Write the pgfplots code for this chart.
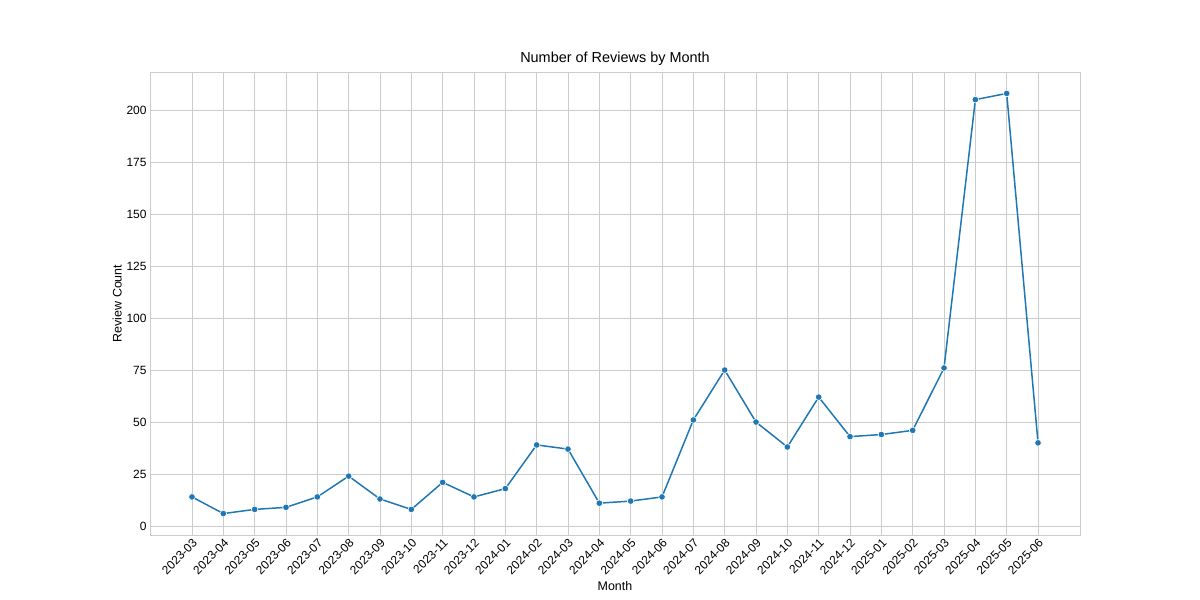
\documentclass[border=0pt]{standalone}
\usepackage{pgfplots}
\pgfplotsset{compat=1.18}
\usepackage{fontspec}
\setmainfont{Liberation Sans}
\definecolor{sb}{HTML}{1F77B4}
\definecolor{gr}{HTML}{CCCCCC}
\begin{document}
\begin{tikzpicture}[x=1bp,y=1bp]
\path[use as bounding box] (-150,-65) rectangle (1050,535);
\begin{axis}[
  scale only axis, width=930bp, height=463bp,
  xmin=-1.34, xmax=28.34, ymin=-4.3, ymax=218.3,
  xtick={0,...,27},
  xticklabels={2023-03,2023-04,2023-05,2023-06,2023-07,2023-08,2023-09,2023-10,2023-11,2023-12,2024-01,2024-02,2024-03,2024-04,2024-05,2024-06,2024-07,2024-08,2024-09,2024-10,2024-11,2024-12,2025-01,2025-02,2025-03,2025-04,2025-05,2025-06},
  x tick label style={rotate=45,anchor=north east,font=\fontsize{12}{14}\selectfont, inner sep=2pt},
  y tick label style={font=\fontsize{12}{14}\selectfont},
  ytick={0,25,...,200},
  /pgf/number format/assume math mode=true,
  grid=major, grid style={gr, line width=0.8pt},
  axis line style={gr, line width=0.8pt},
  major tick length=0pt,
  title={Number of Reviews by Month},
  title style={font=\fontsize{14.5}{16}\selectfont, yshift=-3pt},
  xlabel={Month}, ylabel={Review Count},
  label style={font=\fontsize{12.5}{14}\selectfont},
  ylabel style={yshift=-2pt},
]
\addplot[sb, line width=1.5pt, mark=*, mark size=3.3pt, mark options={fill=sb, draw=white, line width=0.6pt}] coordinates {
(0,14)(1,6)(2,8)(3,9)(4,14)(5,24)(6,13)(7,8)(8,21)(9,14)(10,18)(11,39)(12,37)(13,11)(14,12)(15,14)(16,51)(17,75)(18,50)(19,38)(20,62)(21,43)(22,44)(23,46)(24,76)(25,205)(26,208)(27,40)};
\end{axis}
\end{tikzpicture}
\end{document}
